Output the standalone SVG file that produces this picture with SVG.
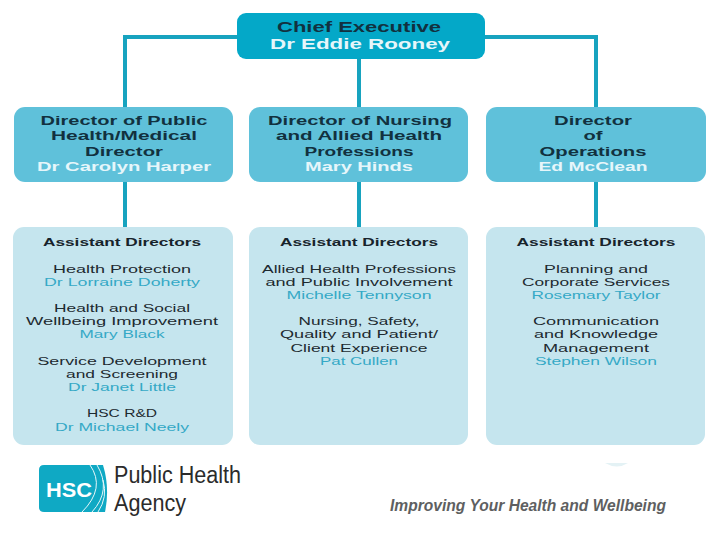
<svg xmlns="http://www.w3.org/2000/svg" width="720" height="540" viewBox="0 0 720 540">
<style>
text{font-family:"Liberation Sans",Arial,sans-serif;text-anchor:middle;}
.h{font-size:13px;font-weight:700;fill:#12313f;}
.w{font-size:13px;font-weight:700;fill:#e6f6fa;}
.ah{font-size:11px;font-weight:700;fill:#17232b;}
.t{font-size:11px;fill:#1d2a30;}
.n{font-size:11px;fill:#35a9c6;}
.c{fill:none;stroke:#17a3bf;stroke-width:4;}
.d{fill:#5fc1da;}
.a{fill:#c5e5ee;}
</style>
<rect width="720" height="540" fill="#fff"/>
<g id="connectors">
<path class="c" d="M238 37H125V107M485 37H596V107M359 59V107M125 182V227M359 182V227M596 182V227"/>
</g>
<g id="chief-executive">
<rect x="237" y="13" width="248" height="46" rx="9" fill="#04a8c8"/>
<text class="h" x="359" y="32" textLength="164" lengthAdjust="spacingAndGlyphs" style="font-size:15px">Chief Executive</text>
<text class="w" x="360" y="49" textLength="180" lengthAdjust="spacingAndGlyphs" style="font-size:15px">Dr Eddie Rooney</text>
</g>
<g id="director-public-health">
<rect class="d" x="14" y="107" width="219" height="75" rx="11"/>
<text class="h" x="124" y="125" textLength="167" lengthAdjust="spacingAndGlyphs">Director of Public</text>
<text class="h" x="124" y="140" textLength="146" lengthAdjust="spacingAndGlyphs">Health/Medical</text>
<text class="h" x="124" y="156" textLength="78" lengthAdjust="spacingAndGlyphs">Director</text>
<text class="w" x="124" y="171" textLength="174" lengthAdjust="spacingAndGlyphs">Dr Carolyn Harper</text>
</g>
<g id="director-nursing">
<rect class="d" x="249" y="107" width="219" height="75" rx="11"/>
<text class="h" x="360" y="125" textLength="184" lengthAdjust="spacingAndGlyphs">Director of Nursing</text>
<text class="h" x="359" y="140" textLength="166" lengthAdjust="spacingAndGlyphs">and Allied Health</text>
<text class="h" x="359" y="156" textLength="109" lengthAdjust="spacingAndGlyphs">Professions</text>
<text class="w" x="359" y="171" textLength="108" lengthAdjust="spacingAndGlyphs">Mary Hinds</text>
</g>
<g id="director-operations">
<rect class="d" x="486" y="107" width="220" height="75" rx="11"/>
<text class="h" x="593" y="125" textLength="78" lengthAdjust="spacingAndGlyphs">Director</text>
<text class="h" x="593" y="140" textLength="19" lengthAdjust="spacingAndGlyphs">of</text>
<text class="h" x="593" y="156" textLength="107" lengthAdjust="spacingAndGlyphs">Operations</text>
<text class="w" x="593" y="171" textLength="109" lengthAdjust="spacingAndGlyphs">Ed McClean</text>
</g>
<g id="assistant-public-health">
<rect class="a" x="13" y="227" width="220" height="218" rx="11"/>
<text class="ah" x="122" y="246" textLength="158" lengthAdjust="spacingAndGlyphs">Assistant Directors</text>
<text class="t" x="122" y="272.500" textLength="138" lengthAdjust="spacingAndGlyphs">Health Protection</text>
<text class="n" x="122" y="285.500" textLength="156" lengthAdjust="spacingAndGlyphs">Dr Lorraine Doherty</text>
<text class="t" x="122" y="312" textLength="136" lengthAdjust="spacingAndGlyphs">Health and Social</text>
<text class="t" x="122" y="325" textLength="192" lengthAdjust="spacingAndGlyphs">Wellbeing Improvement</text>
<text class="n" x="122" y="338" textLength="85" lengthAdjust="spacingAndGlyphs">Mary Black</text>
<text class="t" x="122" y="364.500" textLength="169" lengthAdjust="spacingAndGlyphs">Service Development</text>
<text class="t" x="122" y="378" textLength="112" lengthAdjust="spacingAndGlyphs">and Screening</text>
<text class="n" x="122" y="391" textLength="108" lengthAdjust="spacingAndGlyphs">Dr Janet Little</text>
<text class="t" x="122" y="417" textLength="70" lengthAdjust="spacingAndGlyphs">HSC R&amp;D</text>
<text class="n" x="122" y="431" textLength="134" lengthAdjust="spacingAndGlyphs">Dr Michael Neely</text>
</g>
<g id="assistant-nursing">
<rect class="a" x="249" y="227" width="219" height="218" rx="11"/>
<text class="ah" x="359" y="246" textLength="158" lengthAdjust="spacingAndGlyphs">Assistant Directors</text>
<text class="t" x="359" y="272.500" textLength="194" lengthAdjust="spacingAndGlyphs">Allied Health Professions</text>
<text class="t" x="359" y="285.500" textLength="187" lengthAdjust="spacingAndGlyphs">and Public Involvement</text>
<text class="n" x="359" y="299" textLength="145" lengthAdjust="spacingAndGlyphs">Michelle Tennyson</text>
<text class="t" x="359" y="325" textLength="121" lengthAdjust="spacingAndGlyphs">Nursing, Safety,</text>
<text class="t" x="359" y="338" textLength="158" lengthAdjust="spacingAndGlyphs">Quality and Patient/</text>
<text class="t" x="359" y="351.500" textLength="137" lengthAdjust="spacingAndGlyphs">Client Experience</text>
<text class="n" x="359" y="364.500" textLength="78" lengthAdjust="spacingAndGlyphs">Pat Cullen</text>
</g>
<g id="assistant-operations">
<rect class="a" x="486" y="227" width="219" height="218" rx="11"/>
<text class="ah" x="596" y="246" textLength="159" lengthAdjust="spacingAndGlyphs">Assistant Directors</text>
<text class="t" x="596" y="272.500" textLength="104" lengthAdjust="spacingAndGlyphs">Planning and</text>
<text class="t" x="596" y="285.500" textLength="148" lengthAdjust="spacingAndGlyphs">Corporate Services</text>
<text class="n" x="596" y="299" textLength="129" lengthAdjust="spacingAndGlyphs">Rosemary Taylor</text>
<text class="t" x="596" y="325" textLength="126" lengthAdjust="spacingAndGlyphs">Communication</text>
<text class="t" x="596" y="338" textLength="124" lengthAdjust="spacingAndGlyphs">and Knowledge</text>
<text class="t" x="596" y="351.500" textLength="106" lengthAdjust="spacingAndGlyphs">Management</text>
<text class="n" x="596" y="364.500" textLength="122" lengthAdjust="spacingAndGlyphs">Stephen Wilson</text>
</g>
<path d="M605 463H628Q617 470 605 463Z" fill="#e4f2f5"/>
<g id="logo">
<path d="M44 465H103Q110 488 105 512H44Q39 512 39 507V470Q39 465 44 465Z" fill="#0fa9c4"/>
<path d="M90 465Q106 488 82 512M97 465Q112 490 92 512M103 480Q108 497 98 512" fill="none" stroke="#e6f7fa" stroke-width="1"/>
<text x="69" y="497" style="font-size:21px;font-weight:700;fill:#fff" textLength="46" lengthAdjust="spacingAndGlyphs">HSC</text>
<text x="177.500" y="483" style="font-size:23px;fill:#2b2b2b" textLength="127" lengthAdjust="spacingAndGlyphs">Public Health</text>
<text x="150" y="511" style="font-size:23px;fill:#2b2b2b" textLength="72" lengthAdjust="spacingAndGlyphs">Agency</text>
</g>
<text x="528" y="511" style="font-size:16.500px;font-weight:700;font-style:italic;fill:#5e5f61" textLength="276" lengthAdjust="spacingAndGlyphs">Improving Your Health and Wellbeing</text>
</svg>
